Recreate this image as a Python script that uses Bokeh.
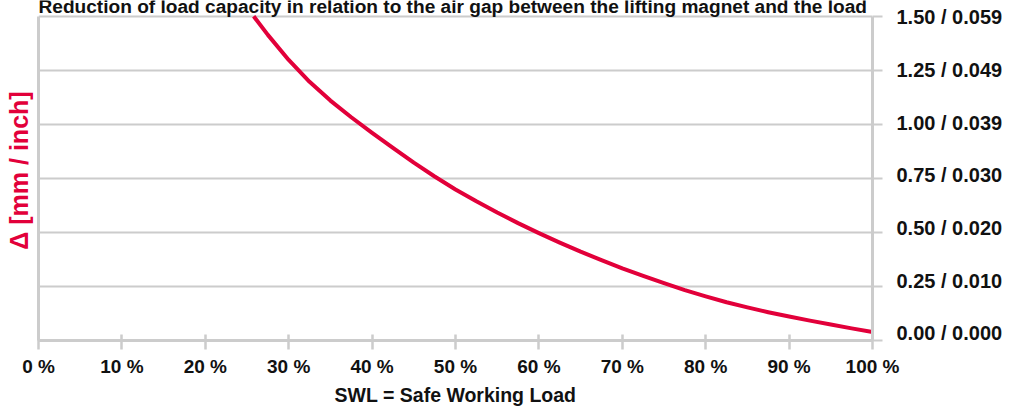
from bokeh.plotting import figure
from bokeh.models import LinearAxis, FixedTicker, Label, Range1d
from bokeh.embed import file_html
from bokeh.resources import INLINE

# ---- data ----
load_pct = [25.8, 27.5, 30, 32.5, 35, 37.5, 40, 42.5, 45, 47.5, 50, 52.5, 55, 57.5, 60,
            62.5, 65, 67.5, 70, 72.5, 75, 77.5, 80, 82.5, 85, 87.5, 90, 92.5, 95, 97.5, 100]
gap_mm = [1.500, 1.414, 1.298, 1.197, 1.110, 1.033, 0.961, 0.891, 0.823, 0.759, 0.699,
          0.644, 0.592, 0.543, 0.497, 0.453, 0.411, 0.372, 0.334, 0.299, 0.265, 0.233,
          0.204, 0.177, 0.153, 0.131, 0.111, 0.092, 0.074, 0.056, 0.039]

x_ticks = [0, 10, 20, 30, 40, 50, 60, 70, 80, 90, 100]
x_tick_labels = ["0 %", "10 %", "20 %", "30 %", "40 %", "50 %", "60 %", "70 %", "80 %", "90 %", "100 %"]
y_ticks_mm = [0.0, 0.25, 0.5, 0.75, 1.0, 1.25, 1.5]
y_tick_labels = ["0.00 / 0.000", "0.25 / 0.010", "0.50 / 0.020", "0.75 / 0.030",
                 "1.00 / 0.039", "1.25 / 0.049", "1.50 / 0.059"]

title_text = "Reduction of load capacity in relation to the air gap between the lifting magnet and the load"
x_title = "SWL = Safe Working Load"
y_title = "\u0394 [mm / inch]"

RED = "#E2003A"
GRAY = "#CCCCCC"
INK = "#111111"
FONT = "Liberation Sans"

# layout: frame spans the full top of the canvas; 1.5 mm sits 16 px below the top,
# so the chart title (a label inside the frame) is cut off like in the reference
W, H = 1016, 408
BORDER_L, BORDER_R, BORDER_B = 38, 144, 64
frame_h = H - BORDER_B
y_max = max(y_ticks_mm)
y_top = y_max * frame_h / (frame_h - 16)

# the right-hand value labels are spaced slightly tighter than the grid
# (0 label 7 px above the axis, 1.50 label ~1 px below the top line)
lab_px_per_unit = (frame_h - 7.3 - 17.1) / y_max
lab_lo = -7.3 / lab_px_per_unit
lab_hi = lab_lo + frame_h / lab_px_per_unit

p = figure(width=W, height=H, x_range=Range1d(0, 100), y_range=Range1d(0, y_top),
           output_backend="svg", toolbar_location=None,
           min_border_left=BORDER_L, min_border_right=BORDER_R, min_border_top=0,
           min_border_bottom=BORDER_B)
p.extra_y_ranges = {"labels": Range1d(lab_lo, lab_hi)}
p.outline_line_color = None
p.background_fill_color = "white"

# grid
p.xgrid.visible = False
p.ygrid.ticker = FixedTicker(ticks=y_ticks_mm)
p.ygrid.grid_line_color = GRAY
p.ygrid.grid_line_width = 2

# left axis: line + red axis title
ya = p.yaxis[0]
ya.bounds = (0, y_max)
ya.ticker = FixedTicker(ticks=y_ticks_mm)
ya.major_label_overrides = {t: "" for t in y_ticks_mm}
ya.major_tick_in = 0
ya.major_tick_out = 0
ya.minor_tick_in = 0
ya.minor_tick_out = 0
ya.major_label_standoff = 0
ya.axis_line_color = GRAY
ya.axis_line_width = 3
ya.axis_label = y_title
ya.axis_label_standoff = 6
ya.axis_label_text_font = FONT
ya.axis_label_text_font_style = "bold"
ya.axis_label_text_font_size = "25px"
ya.axis_label_text_color = RED

# right axis line with outward ticks
rt = LinearAxis(ticker=FixedTicker(ticks=y_ticks_mm), bounds=(0, y_max),
                major_label_overrides={t: "" for t in y_ticks_mm})
rt.major_tick_in = 0
rt.major_tick_out = 10
rt.minor_tick_in = 0
rt.minor_tick_out = 0
rt.major_tick_line_color = GRAY
rt.major_tick_line_width = 2
rt.axis_line_color = GRAY
rt.axis_line_width = 3
rt.major_label_standoff = 0
p.add_layout(rt, "right")

# right value labels mm / inch
rl = LinearAxis(y_range_name="labels", ticker=FixedTicker(ticks=y_ticks_mm),
                major_label_overrides={t: s for t, s in zip(y_ticks_mm, y_tick_labels)})
rl.axis_line_color = None
rl.major_tick_line_color = None
rl.minor_tick_line_color = None
rl.major_tick_in = 0
rl.major_tick_out = 0
rl.minor_tick_in = 0
rl.minor_tick_out = 0
rl.major_label_standoff = 14
rl.major_label_text_font = FONT
rl.major_label_text_font_style = "bold"
rl.major_label_text_font_size = "20px"
rl.major_label_text_color = INK
p.add_layout(rl, "right")

# bottom axis
xa = p.xaxis[0]
xa.ticker = FixedTicker(ticks=x_ticks)
xa.major_label_overrides = {t: s for t, s in zip(x_ticks, x_tick_labels)}
xa.major_tick_in = 6
xa.major_tick_out = 9
xa.minor_tick_in = 0
xa.minor_tick_out = 0
xa.major_tick_line_color = GRAY
xa.major_tick_line_width = 2.5
xa.axis_line_color = GRAY
xa.axis_line_width = 3
xa.major_label_standoff = 6
xa.major_label_text_font = FONT
xa.major_label_text_font_style = "bold"
xa.major_label_text_font_size = "19px"
xa.major_label_text_color = INK
xa.axis_label = x_title
xa.axis_label_standoff = 4
xa.axis_label_text_font = FONT
xa.axis_label_text_font_style = "bold"
xa.axis_label_text_font_size = "19.5px"
xa.axis_label_text_color = INK

# curve
p.line(load_pct, gap_mm, line_color=RED, line_width=4, line_cap="butt", line_join="round")

# chart title (partly cut off at the top, as in the reference)
p.add_layout(Label(x=0, y=y_max, y_offset=10, text=title_text, text_baseline="alphabetic",
                   text_align="left", text_font=FONT, text_font_style="bold",
                   text_font_size="19.1px", text_color=INK))

open("out.html", "w").write(file_html(p, INLINE))
